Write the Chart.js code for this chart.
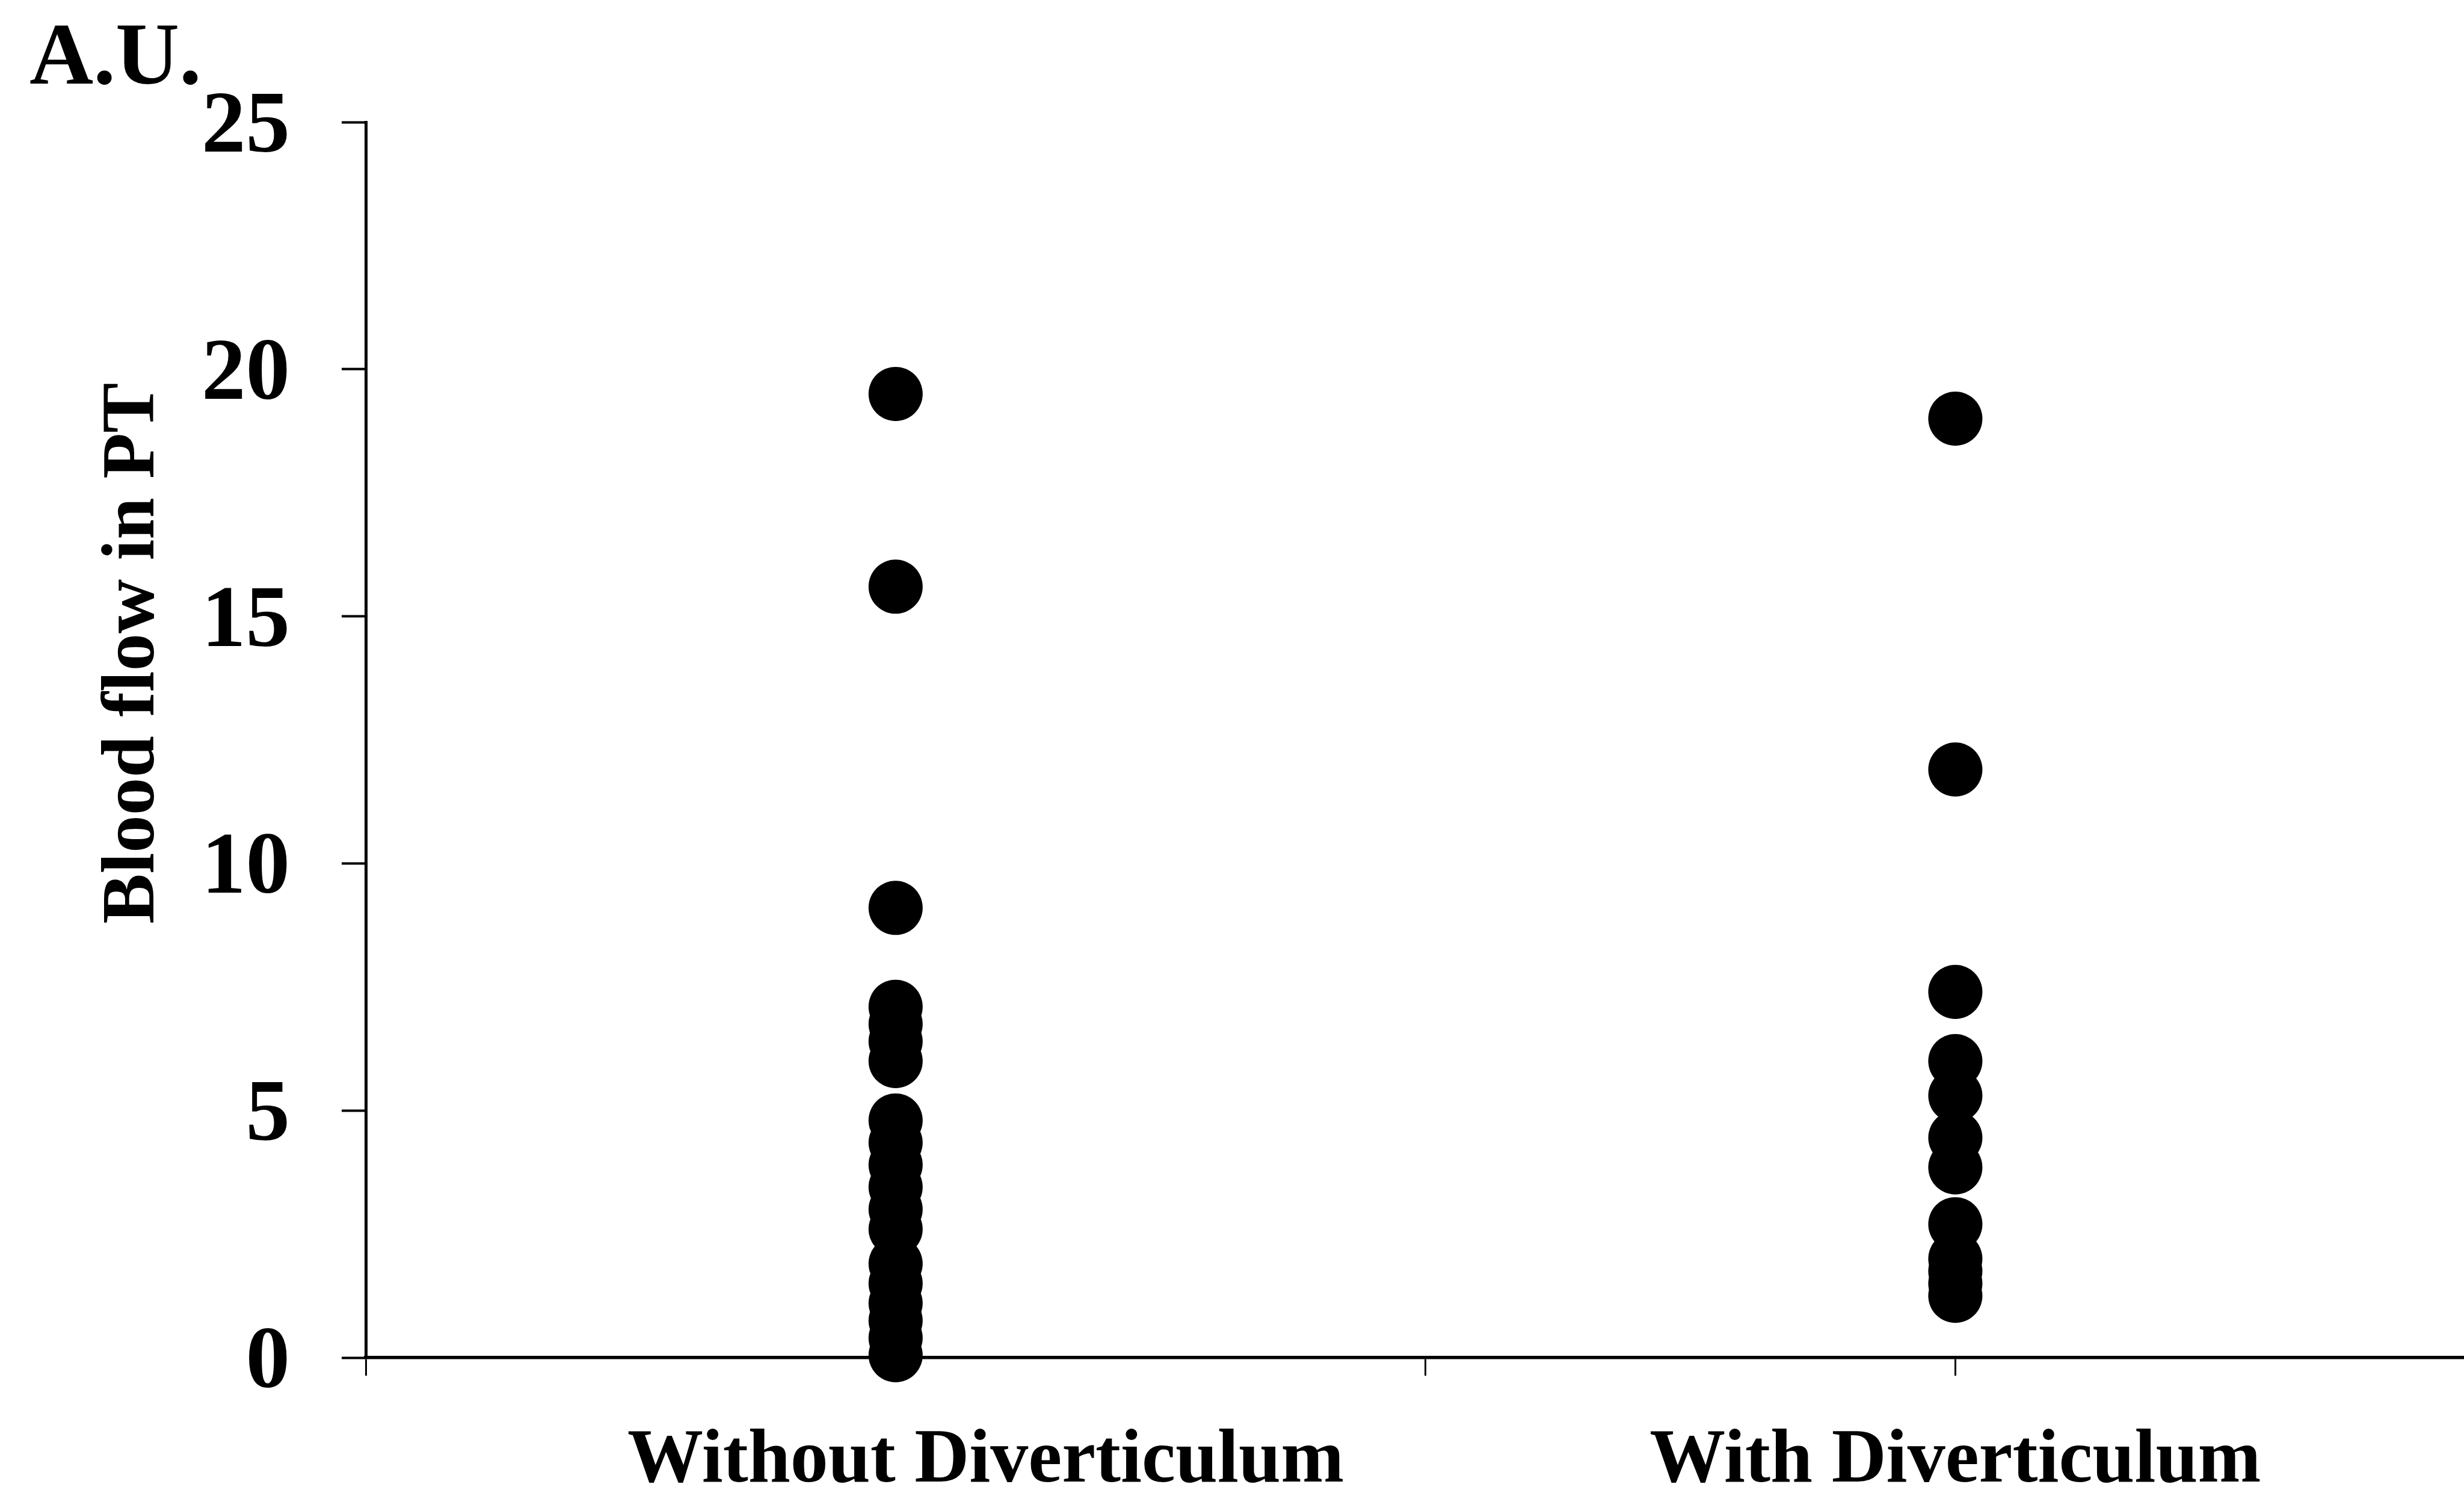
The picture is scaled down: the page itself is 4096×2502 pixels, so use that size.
<!DOCTYPE html>
<html>
<head>
<meta charset="utf-8">
<script src="https://cdn.jsdelivr.net/npm/chart.js@4"></script>
<style>
  html, body { margin: 0; padding: 0; background: #fff; overflow: hidden; }
  canvas { display: block; }
</style>
</head>
<body>
<canvas id="plotChart" width="4096" height="2502"></canvas>
<script>
const categories = ['Without Diverticulum', 'With Diverticulum']
const groupX = [1, 3]
const withoutValues = [19.5, 15.6, 9.1, 7.1, 6.75, 6.4, 6.0, 4.8, 4.35, 3.9, 3.45, 3.0, 2.6, 1.9, 1.5, 1.1, 0.75, 0.4, 0.05]
const withValues = [19.0, 11.9, 7.4, 6.0, 5.3, 4.45, 3.85, 2.7, 2.0, 1.75, 1.5, 1.25]
const yTicks = [0, 5, 10, 15, 20, 25]
const yTitle = 'Blood flow in PT'
const unitLabel = 'A.U.'

const font = '"Liberation Serif", "Times New Roman", serif'

// the left label sits a little right of its column in the original
const labelShift = [0.17, 0]
const labelAt = {}
categories.forEach((c, i) => { labelAt[groupX[i] + labelShift[i]] = c })
const xTickValues = [0, 1, 2, 3].concat(Object.keys(labelAt).map(Number))
    .filter((v, i, a) => a.indexOf(v) === i)
    .sort((a, b) => a - b)

let ctx = document.getElementById('plotChart')

const textPlugin = {
    id: 'sideTexts',
    afterDraw(chart) {
        let c = chart.ctx
        c.save()
        c.fillStyle = '#000'
        c.font = 'bold 147px ' + font
        c.textAlign = 'left'
        c.textBaseline = 'alphabetic'
        c.fillText(unitLabel, 49, 139)

        c.font = 'bold 125px ' + font
        c.translate(255, 1086)
        c.rotate(-Math.PI / 2)
        c.textAlign = 'center'
        c.fillText(yTitle, 0, 0)
        c.restore()
    }
}

let plotData = {
    type: 'scatter',
    data: {
        datasets: [
            {
                label: categories[0],
                data: withoutValues.map(v => ({ x: groupX[0], y: v })),
                backgroundColor: '#000',
                borderWidth: 0,
                pointRadius: 45,
                pointHoverRadius: 45,
                clip: false
            },
            {
                label: categories[1],
                data: withValues.map(v => ({ x: groupX[1], y: v })),
                backgroundColor: '#000',
                borderWidth: 0,
                pointRadius: 45,
                pointHoverRadius: 45,
                clip: false
            }
        ]
    },
    options: {
        responsive: false,
        animation: false,
        events: [],
        layout: {
            autoPadding: false,
            padding: { top: 203, left: 0, right: 0, bottom: 0 }
        },
        plugins: {
            legend: { display: false },
            tooltip: { enabled: false },
            title: { display: false }
        },
        scales: {
            x: {
                type: 'linear',
                min: 0,
                max: 3.96,
                afterBuildTicks: scale => {
                    scale.ticks = xTickValues.map(v => ({ value: v }))
                },
                afterFit: scale => {
                    scale.height = 245
                    scale.paddingLeft = 0
                    scale.paddingRight = 0
                },
                grid: {
                    drawOnChartArea: false,
                    tickLength: 30,
                    tickWidth: 3,
                    tickColor: c => (c.tick && labelAt[c.tick.value] && !groupX.includes(c.tick.value)) ? 'rgba(0,0,0,0)' : '#000'
                },
                border: { display: true, color: '#000', width: 5.5 },
                ticks: {
                    autoSkip: false,
                    maxRotation: 0,
                    minRotation: 0,
                    padding: 68,
                    color: '#000',
                    font: { family: font, size: 126, weight: 'bold' },
                    callback: v => labelAt[v] || ''
                }
            },
            y: {
                min: 0,
                max: 25,
                afterBuildTicks: scale => {
                    scale.ticks = yTicks.map(v => ({ value: v }))
                },
                afterFit: scale => { scale.width = 608 },
                grid: {
                    drawOnChartArea: false,
                    tickLength: 40,
                    tickWidth: 4,
                    tickColor: '#000'
                },
                border: { display: true, color: '#000', width: 5 },
                ticks: {
                    padding: 86,
                    labelOffset: 11,
                    color: '#000',
                    font: { family: font, size: 147, weight: 'bold' }
                }
            }
        }
    },
    plugins: [textPlugin]
}

const plot = new Chart(ctx, plotData)
</script>
</body>
</html>
